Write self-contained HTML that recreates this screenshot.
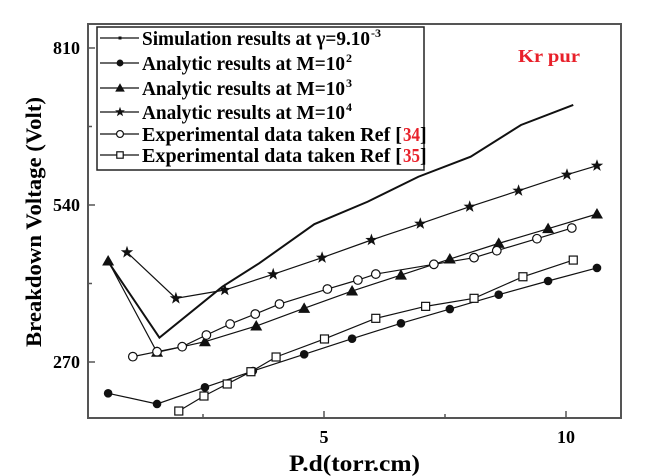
<!DOCTYPE html>
<html><head><meta charset="utf-8"><style>
html,body{margin:0;padding:0;background:#fff;}
svg{display:block;font-family:"Liberation Serif",serif;}
</style></head><body>
<svg id="chart" width="648" height="476" viewBox="0 0 648 476">
<rect x="0" y="0" width="648" height="476" fill="#fff"/>
<g id="axes"></g>
<g id="series"></g>
<g id="legend">
 <rect x="97" y="27" width="327" height="143" fill="#fff" stroke="#222" stroke-width="1.5"/>
</g>
<text x="518" y="62" fill="#e8202a" font-weight="bold" font-size="18" textLength="62" lengthAdjust="spacingAndGlyphs">Kr pur</text>
<text x="289" y="471" font-weight="bold" font-size="23" textLength="131" lengthAdjust="spacingAndGlyphs">P.d(torr.cm)</text>
<text transform="translate(41,347) rotate(-90)" font-weight="bold" font-size="22" textLength="250" lengthAdjust="spacingAndGlyphs">Breakdown Voltage (Volt)</text>
</svg>
<script>
const xTicks=[2.5,5,7.5,10];
const xTickLabels=['','5','','10'];
const yTicks=[270,405,540,675,810];
const yTickLabels=['270','','540','','810'];
const simX=[0.53,1.6,2.9,3.66,4.8,5.9,6.95,8.03,9.07,10.15];
const simY=[443.7,311.8,399.5,439.7,507,545.6,588.6,623,677.6,712];
const m2X=[0.54,1.55,2.54,3.53,4.59,5.58,6.59,7.6,8.61,9.63,10.64];
const m2Y=[216.2,197.8,226.5,254.5,283.2,310.1,336.5,361.1,385.7,409.3,431.7];
const m3X=[0.54,1.55,2.54,3.6,4.59,5.58,6.59,7.6,8.61,9.63,10.64];
const m3Y=[443.7,286.7,304.9,331.9,362.3,392,419.5,447.1,474,499.3,524.5];
const m4X=[0.93,1.94,2.95,3.95,4.96,5.98,6.99,8.01,9.02,10.02,10.64];
const m4Y=[458.6,379.5,393.8,420.8,449.4,479.8,507.9,537.1,564.6,592.1,607.6];
const r34X=[1.05,1.55,2.07,2.57,3.06,3.58,4.08,5.07,5.7,6.07,7.27,8.1,8.57,9.4,10.12];
const r34Y=[279.2,287.7,296.3,316.4,335.3,352.5,369.7,395.5,411,421.2,438,449.4,461.4,482,500.4];
const r35X=[2.0,2.52,3.0,3.49,4.01,5.01,6.07,7.1,8.1,9.11,10.15];
const r35Y=[185.7,211.5,232.2,253.3,278.6,309.6,345.1,365.7,379.5,416.6,445.3];

const NS='http://www.w3.org/2000/svg';
const L=88,R=621,T=24,B=418;
const sx=v=>82+v*48.4;
const sy=v=>362-(v-270)*0.5815;
function mk(tag,attrs,parent){const e=document.createElementNS(NS,tag);for(const k in attrs)e.setAttribute(k,attrs[k]);parent.appendChild(e);return e;}
const axes=document.getElementById('axes');
const frame=mk('rect',{x:L,y:T,width:R-L,height:B-T,fill:'none',stroke:'#555','stroke-width':2},axes);


xTicks.forEach((v,i)=>{
 const t=mk('line',{x1:sx(v),x2:sx(v),y1:B,y2:B-(xTickLabels[i]?7:4),stroke:'#555','stroke-width':1.5},axes);
 
 
 if(xTickLabels[i]){const tx=mk('text',{x:sx(v),y:B+25,'text-anchor':'middle','font-weight':'bold','font-size':18},axes);tx.textContent=xTickLabels[i];
 
 }
});
yTicks.forEach((v,i)=>{
 const t=mk('line',{x1:L,x2:L+(yTickLabels[i]?7:4),y1:sy(v),y2:sy(v),stroke:'#555','stroke-width':1.5},axes);
 
 
 if(yTickLabels[i]){const tx=mk('text',{x:L-8,y:sy(v)+6,'text-anchor':'end','font-weight':'bold','font-size':18},axes);tx.textContent=yTickLabels[i];
 
 }
});
function marker(type,x,y,parent,s){
 s=s||1;let e;
 if(type==='dot')e=mk('circle',{cx:x,cy:y,r:4.3*s,fill:'#111'},parent);
 else if(type==='ocircle')e=mk('circle',{cx:x,cy:y,r:4.3*s,fill:'#fff',stroke:'#111','stroke-width':1.2},parent);
 else if(type==='tri')e=mk('polygon',{points:`${x},${y-6*s} ${x-6*s},${y+4.5*s} ${x+6*s},${y+4.5*s}`,fill:'#111'},parent);
 else if(type==='square')e=mk('rect',{x:x-4*s,y:y-4*s,width:8*s,height:8*s,fill:'#fff',stroke:'#111','stroke-width':1.2},parent);
 else if(type==='star'){let p=[];for(let k=0;k<10;k++){const r=(k%2?2.6:6.5)*s,a=-Math.PI/2+k*Math.PI/5;p.push((x+r*Math.cos(a)).toFixed(1)+','+(y+r*Math.sin(a)).toFixed(1));}e=mk('polygon',{points:p.join(' '),fill:'#111'},parent);}
 else if(type==='tiny')e=mk('rect',{x:x-1.5,y:y-1.5,width:3,height:3,fill:'#111'},parent);
 return e;
}
const series=[
 {name:'simulation',X:simX,Y:simY,m:null,w:2},
 {name:'analytic-m100',X:m2X,Y:m2Y,m:'dot',w:1.2},
 {name:'analytic-m1000',X:m3X,Y:m3Y,m:'tri',w:1.2},
 {name:'analytic-m10000',X:m4X,Y:m4Y,m:'star',w:1.2},
 {name:'experimental-ref34',X:r34X,Y:r34Y,m:'ocircle',w:1.2},
 {name:'experimental-ref35',X:r35X,Y:r35Y,m:'square',w:1.2}
];
const sg=document.getElementById('series');
series.forEach(s=>{
 const g=mk('g',{},sg);
 
 
 const pl=mk('polyline',{points:s.X.map((x,i)=>sx(x)+','+sy(s.Y[i])).join(' '),fill:'none',stroke:'#111','stroke-width':s.w},g);
 
 
 if(s.m)s.X.forEach((x,i)=>{const e=marker(s.m,sx(x),sy(s.Y[i]),g);
  
  });
});
const lg=document.getElementById('legend');
const entries=[
 {m:'tiny',y:38,t:'Simulation results at γ=9.10',w:228,sup:'-3'},
 {m:'dot',y:63,t:'Analytic results at M=10',w:203,sup:'2'},
 {m:'tri',y:88,t:'Analytic results at M=10',w:203,sup:'3'},
 {m:'star',y:112,t:'Analytic results at M=10',w:203,sup:'4'},
 {m:'ocircle',y:134,t:'Experimental data taken Ref [',w:260,ref:'34'},
 {m:'square',y:155,t:'Experimental data taken Ref [',w:260,ref:'35'}
];
entries.forEach(en=>{
 const g=mk('g',{},lg);
 
 
 mk('line',{x1:100,x2:139,y1:en.y,y2:en.y,stroke:'#111','stroke-width':1.2},g);
 marker(en.m,120,en.y,g,0.8);
 const t=mk('text',{x:142,y:en.y+7,'font-weight':'bold','font-size':20,textLength:en.w,lengthAdjust:'spacingAndGlyphs'},g);
 t.textContent=en.t;
 const ex=142+en.w;
 if(en.sup){const ts=mk('text',{x:ex+1,y:en.y-1,'font-weight':'bold','font-size':12},g);ts.textContent=en.sup;}
 if(en.ref){const ts=mk('text',{x:ex+1,y:en.y+7,'font-weight':'bold','font-size':20,fill:'#e8202a',textLength:17,lengthAdjust:'spacingAndGlyphs'},g);ts.textContent=en.ref;
  const te=mk('text',{x:ex+18,y:en.y+7,'font-weight':'bold','font-size':20},g);te.textContent=']';}
});
</script>
</body></html>
